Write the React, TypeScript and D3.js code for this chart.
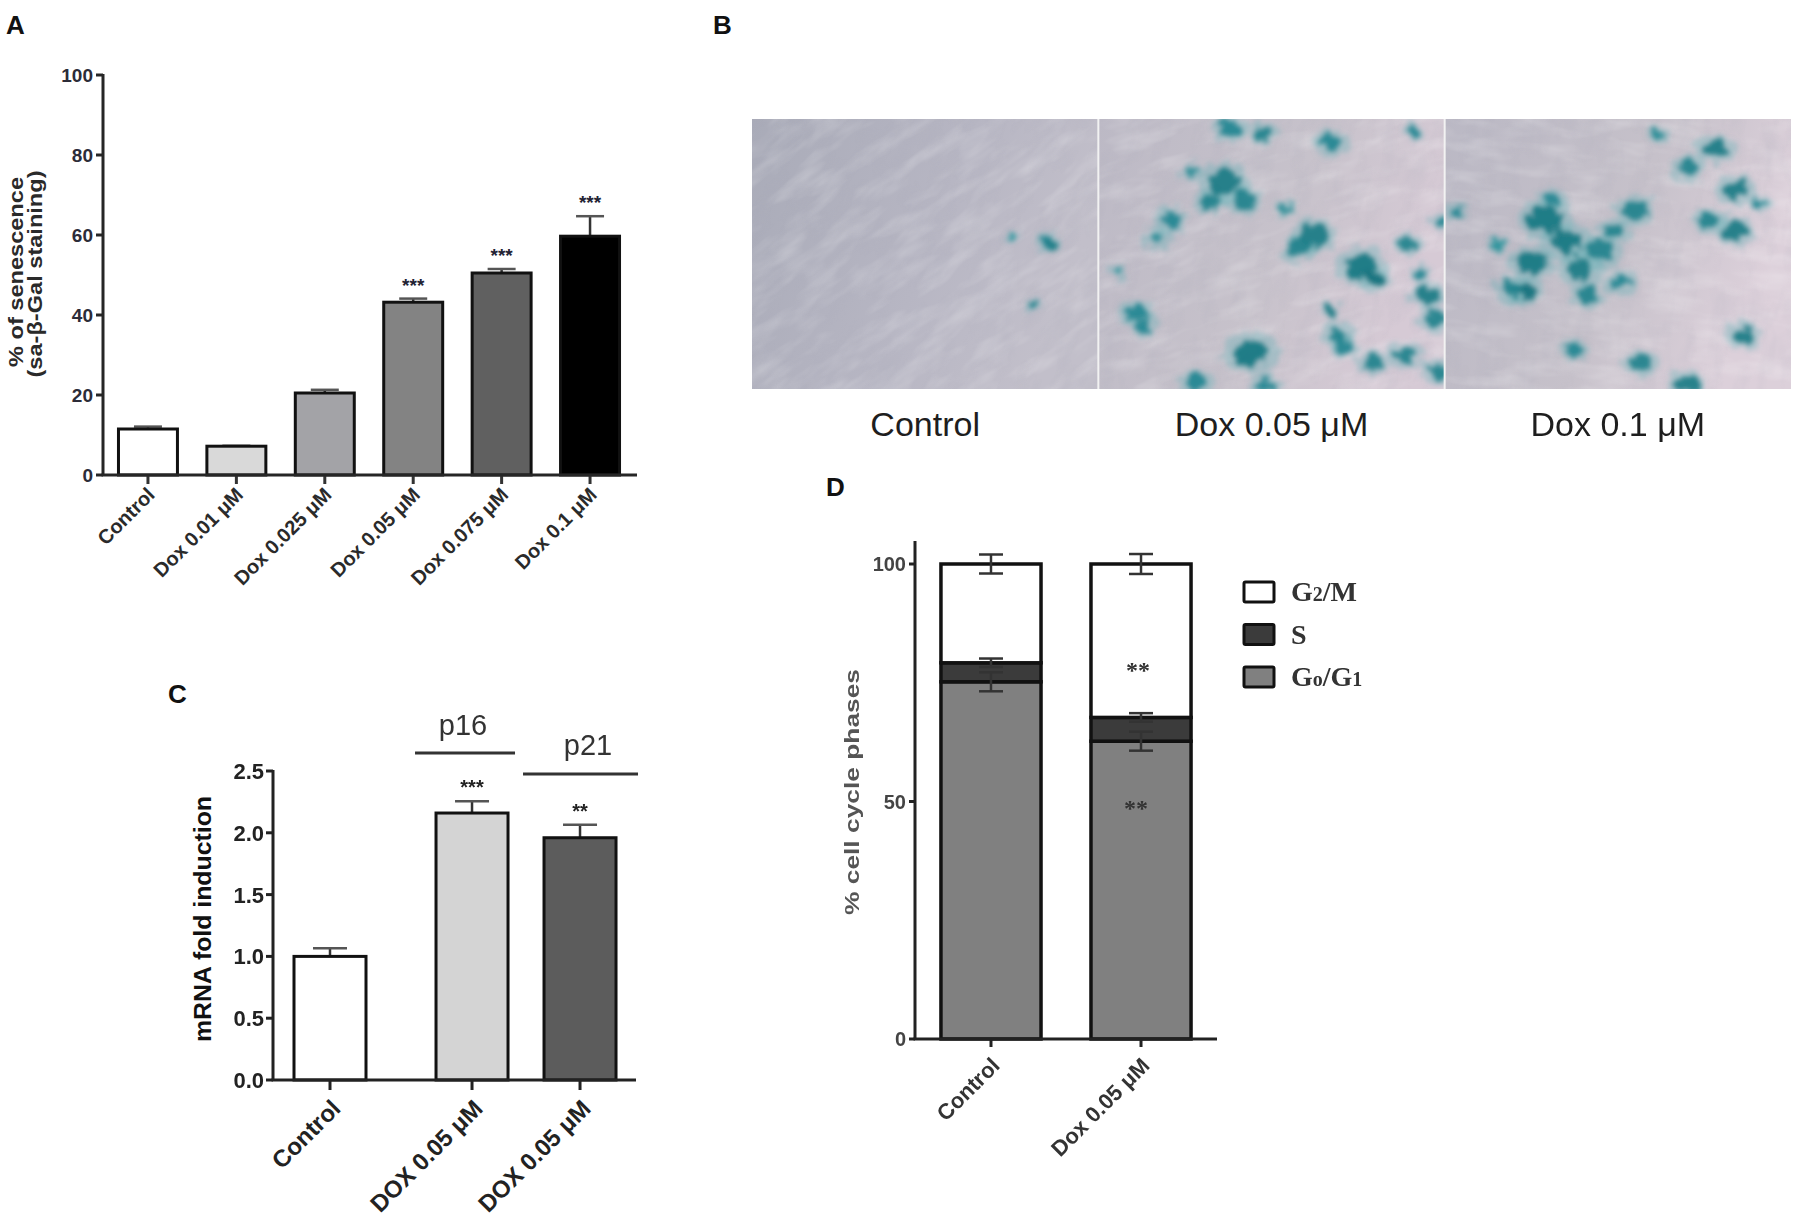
import React from "react";
import * as d3 from "d3";

const W = 1800;
const H = 1222;

// ---------- Panel A data ----------
const senCategories = ["Control", "Dox 0.01 μM", "Dox 0.025 μM", "Dox 0.05 μM", "Dox 0.075 μM", "Dox 0.1 μM"];
const senValues = [11.5, 7.2, 20.5, 43.2, 50.5, 59.7];
const senErrors = [0.6, 0.1, 0.8, 0.9, 1.0, 5.0];
const senStars = ["", "", "", "***", "***", "***"];
const senTicks = [0, 20, 40, 60, 80, 100];
const senFills = ["#ffffff", "#d9d9d9", "#a3a3a7", "#838383", "#606060", "#000000"];

// ---------- Panel B data ----------
const photoLabels = ["Control", "Dox 0.05 μM", "Dox 0.1 μM"];
// stained spots: [u, v, radius, darkness] in relative panel units
const spotsControl: number[][] = [
  [0.84, 0.44, 0.022, 0.6], [0.80, 0.67, 0.016, 0.7], [0.86, 0.46, 0.014, 0.8], [0.74, 0.42, 0.012, 0.3],
];
const spotsDox05: number[][] = [
  [0.37, 0.02, 0.03, 0.6], [0.47, 0.04, 0.025, 0.7], [0.66, 0.07, 0.03, 0.6], [0.90, 0.03, 0.02, 0.6],
  [0.35, 0.22, 0.045, 0.8], [0.31, 0.29, 0.03, 0.7], [0.41, 0.29, 0.03, 0.7], [0.26, 0.18, 0.02, 0.5],
  [0.20, 0.36, 0.03, 0.6], [0.16, 0.43, 0.025, 0.5], [0.53, 0.32, 0.02, 0.5],
  [0.61, 0.42, 0.04, 0.8], [0.57, 0.47, 0.03, 0.7], [0.75, 0.53, 0.045, 0.9], [0.79, 0.58, 0.025, 1.0],
  [0.88, 0.45, 0.025, 0.7], [0.94, 0.64, 0.03, 0.8], [0.96, 0.73, 0.03, 0.7], [0.92, 0.56, 0.02, 0.6],
  [0.10, 0.70, 0.03, 0.6], [0.12, 0.75, 0.025, 0.6], [0.05, 0.55, 0.02, 0.4],
  [0.68, 0.79, 0.03, 0.7], [0.70, 0.83, 0.025, 0.6], [0.66, 0.70, 0.02, 0.8],
  [0.43, 0.85, 0.05, 0.9], [0.27, 0.96, 0.03, 0.6], [0.47, 0.98, 0.03, 0.6],
  [0.78, 0.89, 0.03, 0.7], [0.88, 0.86, 0.03, 0.7], [0.98, 0.36, 0.02, 0.6], [0.97, 0.92, 0.03, 0.7],
];
const spotsDox01: number[][] = [
  [0.77, 0.10, 0.035, 0.8], [0.69, 0.17, 0.03, 0.7], [0.83, 0.25, 0.035, 0.8],
  [0.75, 0.36, 0.03, 0.7], [0.83, 0.40, 0.035, 0.8], [0.90, 0.30, 0.02, 0.6],
  [0.28, 0.36, 0.05, 0.9], [0.34, 0.44, 0.045, 0.9], [0.24, 0.52, 0.04, 0.9], [0.22, 0.62, 0.03, 1.0],
  [0.38, 0.54, 0.04, 0.8], [0.44, 0.48, 0.035, 0.7], [0.48, 0.40, 0.03, 0.7], [0.54, 0.32, 0.035, 0.7],
  [0.18, 0.62, 0.03, 0.7], [0.40, 0.64, 0.03, 0.7], [0.50, 0.59, 0.03, 0.6], [0.30, 0.28, 0.025, 0.6],
  [0.85, 0.79, 0.03, 0.8], [0.55, 0.89, 0.03, 0.7], [0.69, 0.97, 0.035, 0.8], [0.36, 0.84, 0.025, 0.6],
  [0.02, 0.33, 0.02, 0.6], [0.60, 0.04, 0.02, 0.5], [0.14, 0.45, 0.02, 0.4],
];
const photoSpots = [spotsControl, spotsDox05, spotsDox01];
const photoGradients = [
  ["#a9abb8", "#b7b6c3", "#c2bfca"],
  ["#bcb9c5", "#c7c2cb", "#d6cad5"],
  ["#bab8c4", "#c6c1ca", "#dcd0da"],
];

// ---------- Panel C data ----------
const mrnaCategories = ["Control", "DOX 0.05 μM", "DOX 0.05 μM"];
const mrnaGenes = ["", "p16", "p21"];
const mrnaValues = [1.0, 2.16, 1.96];
const mrnaErrors = [0.065, 0.095, 0.105];
const mrnaStars = ["", "***", "**"];
const mrnaTicks = [0, 0.5, 1.0, 1.5, 2.0, 2.5];
const mrnaFills = ["#ffffff", "#d4d4d4", "#5c5c5c"];

// ---------- Panel D data ----------
const cycleCategories = ["Control", "Dox 0.05 μM"];
const cyclePhases = ["G0/G1", "S", "G2/M"];
const cycleG0G1 = [75.2, 62.7];
const cycleS = [4.0, 5.0];
const cycleG2M = [20.8, 32.3];
const cycleErrG0G1 = [2.0, 2.0];
const cycleErrS = [0.9, 0.9];
const cycleErrG2M = [2.0, 2.1];
const cycleTicks = [0, 50, 100];
const cycleStarG2M = ["", "**"];
const cycleStarG0G1 = ["", "**"];
const cycleStarG2MValue = 78.5;
const cycleStarG0G1Value = 49.5;
const cycleFills: Record<string, string> = { "G0/G1": "#808080", S: "#3b3b3b", "G2/M": "#ffffff" };
const legendOrder = ["G2/M", "S", "G0/G1"];
const legendParts: Record<string, [string, boolean][]> = {
  "G2/M": [["G", false], ["2", true], ["/M", false]],
  S: [["S", false]],
  "G0/G1": [["G", false], ["o", true], ["/G", false], ["1", true]],
};

const SANS = "Liberation Sans, Arial, Helvetica, sans-serif";
const SERIF = "Liberation Serif, Times New Roman, serif";

function PanelLetter({ x, y, t }: { x: number; y: number; t: string }) {
  return (
    <text x={x} y={y} fontFamily={SANS} fontWeight="bold" fontSize={26} fill="#111">
      {t}
    </text>
  );
}

function PanelA() {
  const x = d3.scaleBand<string>().domain(senCategories).range([103, 635]).paddingInner(0.333).paddingOuter(0.175);
  const y = d3.scaleLinear().domain([0, 100]).range([475, 75]);
  const bw = x.bandwidth();
  return (
    <g>
      {senCategories.map((c, i) => {
        const x0 = x(c)!;
        const cx = x0 + bw / 2;
        const top = y(senValues[i]);
        const et = y(senValues[i] + senErrors[i]);
        return (
          <g key={c}>
            <line x1={cx} x2={cx} y1={top} y2={et} stroke="#333" strokeWidth={2.5} />
            <line x1={cx - 14} x2={cx + 14} y1={et} y2={et} stroke="#555" strokeWidth={2.5} />
            <rect x={x0} y={top} width={bw} height={y(0) - top} fill={senFills[i]} stroke="#111" strokeWidth={3} />
            {senStars[i] && (
              <text x={cx} y={et - 7} textAnchor="middle" fontFamily={SANS} fontWeight="bold" fontSize={19} fill="#223">
                {senStars[i]}
              </text>
            )}
            <line x1={cx} x2={cx} y1={y(0)} y2={y(0) + 9} stroke="#333" strokeWidth={3} />
            <text
              transform={`translate(${cx + 8},${y(0) + 21}) rotate(-45)`}
              textAnchor="end"
              fontFamily={SANS}
              fontWeight="bold"
              fontSize={20}
              fill="#2a2a2a"
            >
              {c}
            </text>
          </g>
        );
      })}
      <line x1={103} x2={103} y1={y(100) - 1} y2={y(0)} stroke="#262626" strokeWidth={3} />
      <line x1={101.5} x2={637} y1={y(0)} y2={y(0)} stroke="#262626" strokeWidth={3} />
      {senTicks.map((t) => (
        <g key={t}>
          <line x1={96} x2={103} y1={y(t)} y2={y(t)} stroke="#262626" strokeWidth={3} />
          <text x={93} y={y(t)} dy="0.36em" textAnchor="end" fontFamily={SANS} fontWeight="bold" fontSize={19} fill="#2c2c38">
            {t}
          </text>
        </g>
      ))}
      <text
        transform="translate(23,272) rotate(-90)"
        textAnchor="middle"
        fontFamily={SANS}
        fontWeight="bold"
        fontSize={19.5}
        fill="#2a2a2a"
        textLength={190}
        lengthAdjust="spacingAndGlyphs"
      >
        % of senescence
      </text>
      <text
        transform="translate(42,274) rotate(-90)"
        textAnchor="middle"
        fontFamily={SANS}
        fontWeight="bold"
        fontSize={19.5}
        fill="#2a2a2a"
        textLength={207}
        lengthAdjust="spacingAndGlyphs"
      >
        (sa-β-Gal staining)
      </text>
    </g>
  );
}

function PanelB() {
  const x = d3.scaleBand<string>().domain(photoLabels).range([752, 1791]);
  const y0 = 119;
  const y1 = 389;
  const bw = x.bandwidth();
  const v = d3.scaleLinear().domain([0, 1]).range([y0, y1]);
  return (
    <g>
      <defs>
        <filter id="cellTexture" x="0" y="0" width="100%" height="100%">
          <feTurbulence type="fractalNoise" baseFrequency="0.02 0.06" numOctaves={3} seed={5} result="n" />
          <feColorMatrix in="n" type="matrix" values="0 0 0 0 1  0 0 0 0 1  0 0 0 0 1  2.0 0 0 0 -0.85" />
        </filter>
        <filter id="cellTexture2" x="0" y="0" width="100%" height="100%">
          <feTurbulence type="fractalNoise" baseFrequency="0.06 0.025" numOctaves={3} seed={11} result="n" />
          <feColorMatrix in="n" type="matrix" values="0 0 0 0 0.42  0 0 0 0 0.42  0 0 0 0 0.5  1.8 0 0 0 -0.8" />
        </filter>
        <filter id="spotShape" x="-20%" y="-20%" width="140%" height="140%">
          <feTurbulence type="turbulence" baseFrequency="0.06" numOctaves={2} seed={3} result="t" />
          <feDisplacementMap in="SourceGraphic" in2="t" scale={15} xChannelSelector="R" yChannelSelector="G" result="d" />
          <feGaussianBlur in="d" stdDeviation={2.6} />
        </filter>
        {photoLabels.map((l, i) => (
          <linearGradient key={l} id={`pg${i}`} x1="0" y1="0" x2="1" y2="0.3">
            <stop offset="0" stopColor={photoGradients[i][0]} />
            <stop offset="0.6" stopColor={photoGradients[i][1]} />
            <stop offset="1" stopColor={photoGradients[i][2]} />
          </linearGradient>
        ))}
        {photoLabels.map((l, i) => (
          <clipPath key={l} id={`pc${i}`}>
            <rect x={x(l)!} y={y0} width={bw} height={y1 - y0} />
          </clipPath>
        ))}
      </defs>
      {photoLabels.map((l, i) => {
        const x0 = x(l)!;
        const u = d3.scaleLinear().domain([0, 1]).range([x0, x0 + bw]);
        const cx = x0 + bw / 2;
        const cy = (y0 + y1) / 2;
        return (
          <g key={l}>
            <g clipPath={`url(#pc${i})`}>
              <rect x={x0} y={y0} width={bw} height={y1 - y0} fill={`url(#pg${i})`} />
              <g transform={`rotate(${-35 + i * 20},${cx},${cy})`}>
                <rect x={cx - 300} y={cy - 300} width={600} height={600} filter="url(#cellTexture)" opacity={0.24} />
              </g>
              <g transform={`rotate(${25 - i * 10},${cx},${cy})`}>
                <rect x={cx - 300} y={cy - 300} width={600} height={600} filter="url(#cellTexture2)" opacity={0.22} />
              </g>
              <g filter="url(#spotShape)">
                {photoSpots[i].map((s, k) => (
                  <ellipse
                    key={"h" + k}
                    cx={u(s[0])}
                    cy={v(s[1])}
                    rx={s[2] * bw * 1.7}
                    ry={s[2] * bw * 1.3}
                    fill="#5fb3b8"
                    opacity={0.35}
                  />
                ))}
                {photoSpots[i].map((s, k) => (
                  <ellipse
                    key={k}
                    cx={u(s[0])}
                    cy={v(s[1])}
                    rx={s[2] * bw}
                    ry={s[2] * bw * 0.8}
                    fill={d3.interpolateRgb("#3fa8b0", "#12707c")(s[3])}
                    opacity={0.92}
                  />
                ))}
              </g>
            </g>
            <text x={x0 + bw / 2} y={436} textAnchor="middle" fontFamily={SANS} fontSize={34} fill="#1e1e1e">
              {l}
            </text>
          </g>
        );
      })}
      <line x1={x(photoLabels[1])!} x2={x(photoLabels[1])!} y1={y0} y2={y1} stroke="#f2f2f2" strokeWidth={2} />
      <line x1={x(photoLabels[2])!} x2={x(photoLabels[2])!} y1={y0} y2={y1} stroke="#f2f2f2" strokeWidth={2} />
    </g>
  );
}

function PanelC() {
  const y = d3.scaleLinear().domain([0, 2.5]).range([1080, 771]);
  // slot positions: control separated from the treated pair by an extra gap
  const gap = 0.315;
  const slot = d3.scaleLinear().domain([0, 1]).range([330, 438]);
  const bw = 72;
  const cxs = mrnaValues.map((_, i) => slot(i === 0 ? 0 : i + gap));
  return (
    <g>
      {mrnaValues.map((val, i) => {
        const cx = cxs[i];
        const top = y(val);
        const et = y(val + mrnaErrors[i]);
        return (
          <g key={i}>
            <line x1={cx} x2={cx} y1={top} y2={et} stroke="#333" strokeWidth={2.5} />
            <line x1={cx - 17} x2={cx + 17} y1={et} y2={et} stroke="#555" strokeWidth={2.5} />
            <rect x={cx - bw / 2} y={top} width={bw} height={y(0) - top} fill={mrnaFills[i]} stroke="#111" strokeWidth={3} />
            {mrnaStars[i] && (
              <text x={cx} y={et - 7} textAnchor="middle" fontFamily={SANS} fontWeight="bold" fontSize={20} fill="#222">
                {mrnaStars[i]}
              </text>
            )}
            <line x1={cx} x2={cx} y1={y(0)} y2={y(0) + 10} stroke="#222" strokeWidth={3} />
            <text
              transform={`translate(${cx + 12},${y(0) + 30}) rotate(-45)`}
              textAnchor="end"
              fontFamily={SANS}
              fontWeight="bold"
              fontSize={24}
              fill="#222"
            >
              {mrnaCategories[i]}
            </text>
          </g>
        );
      })}
      {mrnaGenes.map((g, i) =>
        g ? (
          <g key={g}>
            <line
              x1={cxs[i] - 57}
              x2={cxs[i] + 43 + (i === 2 ? 15 : 0)}
              y1={i === 1 ? 753 : 774}
              y2={i === 1 ? 753 : 774}
              stroke="#333"
              strokeWidth={3}
            />
            <text
              x={i === 1 ? cxs[i] - 9 : cxs[i] + 8}
              y={i === 1 ? 735 : 755}
              textAnchor="middle"
              fontFamily={SANS}
              fontSize={29}
              fill="#333"
            >
              {g}
            </text>
          </g>
        ) : null
      )}
      <line x1={273} x2={273} y1={y(2.5) - 1} y2={y(0)} stroke="#222" strokeWidth={3} />
      <line x1={271.5} x2={636} y1={y(0)} y2={y(0)} stroke="#222" strokeWidth={3} />
      {mrnaTicks.map((t) => (
        <g key={t}>
          <line x1={266} x2={273} y1={y(t)} y2={y(t)} stroke="#222" strokeWidth={3} />
          <text x={264} y={y(t)} dy="0.36em" textAnchor="end" fontFamily={SANS} fontWeight="bold" fontSize={22} fill="#222">
            {t.toFixed(1)}
          </text>
        </g>
      ))}
      <text
        transform="translate(205,919) rotate(-90)"
        textAnchor="middle"
        dominantBaseline="middle"
        fontFamily={SANS}
        fontWeight="bold"
        fontSize={23}
        fill="#111"
        textLength={246}
        lengthAdjust="spacingAndGlyphs"
      >
        mRNA fold induction
      </text>
    </g>
  );
}

function PanelD() {
  const x = d3.scaleBand<string>().domain(cycleCategories).range([915, 1217]).paddingInner(0.333).paddingOuter(0.173);
  const y = d3.scaleLinear().domain([0, 100]).range([1039, 564]);
  const bw = x.bandwidth();
  const rows = cycleCategories.map((c, i) => ({ cat: c, "G0/G1": cycleG0G1[i], S: cycleS[i], "G2/M": cycleG2M[i] }));
  const stack = d3.stack<any>().keys(cyclePhases)(rows);
  const errs: Record<string, number[]> = { "G0/G1": cycleErrG0G1, S: cycleErrS, "G2/M": cycleErrG2M };
  return (
    <g>
      {stack.map((layer) => (
        <g key={layer.key}>
          {layer.map((d, i) => {
            const x0 = x(cycleCategories[i])!;
            return (
              <rect
                key={i}
                x={x0}
                y={y(d[1])}
                width={bw}
                height={y(d[0]) - y(d[1])}
                fill={cycleFills[layer.key]}
                stroke="#111"
                strokeWidth={3.5}
              />
            );
          })}
        </g>
      ))}
      {stack.map((layer) => (
        <g key={"e" + layer.key}>
          {layer.map((d, i) => {
            const cx = x(cycleCategories[i])! + bw / 2;
            const e = errs[layer.key][i];
            return (
              <g key={i} stroke="#333" strokeWidth={2.5}>
                <line x1={cx} x2={cx} y1={y(d[1] - e)} y2={y(d[1] + e)} />
                <line x1={cx - 12} x2={cx + 12} y1={y(d[1] - e)} y2={y(d[1] - e)} />
                <line x1={cx - 12} x2={cx + 12} y1={y(d[1] + e)} y2={y(d[1] + e)} />
              </g>
            );
          })}
        </g>
      ))}
      {cycleCategories.map((c, i) => {
        const cx = x(c)! + bw / 2;
        return (
          <g key={c}>
            {cycleStarG2M[i] && (
              <text x={cx - 3} y={y(cycleStarG2MValue)} dy="0.5em" textAnchor="middle" fontFamily={SERIF} fontWeight="bold" fontSize={24} fill="#333">
                {cycleStarG2M[i]}
              </text>
            )}
            {cycleStarG0G1[i] && (
              <text x={cx - 5} y={y(cycleStarG0G1Value)} dy="0.5em" textAnchor="middle" fontFamily={SERIF} fontWeight="bold" fontSize={24} fill="#333">
                {cycleStarG0G1[i]}
              </text>
            )}
            <line x1={cx} x2={cx} y1={y(0)} y2={y(0) + 8} stroke="#222" strokeWidth={3} />
            <text
              transform={`translate(${cx + 10},${y(0) + 28}) rotate(-45)`}
              textAnchor="end"
              fontFamily={SANS}
              fontWeight="bold"
              fontSize={22}
              fill="#333"
            >
              {c}
            </text>
          </g>
        );
      })}
      <line x1={915} x2={915} y1={541} y2={y(0)} stroke="#222" strokeWidth={3} />
      <line x1={913.5} x2={1217} y1={y(0)} y2={y(0)} stroke="#222" strokeWidth={3} />
      {cycleTicks.map((t) => (
        <g key={t}>
          <line x1={909} x2={915} y1={y(t)} y2={y(t)} stroke="#222" strokeWidth={3} />
          <text x={906} y={y(t)} dy="0.36em" textAnchor="end" fontFamily={SANS} fontWeight="bold" fontSize={20} fill="#444">
            {t}
          </text>
        </g>
      ))}
      <text
        transform="translate(853,792) rotate(-90)"
        textAnchor="middle"
        dominantBaseline="middle"
        fontFamily={SANS}
        fontWeight="bold"
        fontSize={21}
        fill="#555"
        textLength={246}
        lengthAdjust="spacingAndGlyphs"
      >
        % cell cycle phases
      </text>
      {legendOrder.map((k, i) => {
        const ly = 582 + i * 42.5;
        return (
          <g key={k}>
            <rect x={1244} y={ly} width={30} height={20} fill={cycleFills[k]} stroke="#111" strokeWidth={3} rx={1.5} />
            <text x={1291} y={ly + 19} fontFamily={SERIF} fontWeight="bold" fontSize={28} fill="#333">
              {legendParts[k].map(([s, sub], j) => (
                <tspan key={j} fontSize={sub ? 20 : 28}>
                  {s}
                </tspan>
              ))}
            </text>
          </g>
        );
      })}
    </g>
  );
}

export default function App() {
  return (
    <svg
      width={W}
      height={H}
      viewBox={`0 0 ${W} ${H}`}
      style={{ display: "block", position: "absolute", left: 0, top: 0, background: "#fff" }}
    >
      <rect x={0} y={0} width={W} height={H} fill="#fff" />
      <PanelLetter x={6} y={34} t="A" />
      <PanelLetter x={713} y={34} t="B" />
      <PanelLetter x={168} y={703} t="C" />
      <PanelLetter x={826} y={496} t="D" />
      <PanelA />
      <PanelB />
      <PanelC />
      <PanelD />
    </svg>
  );
}
